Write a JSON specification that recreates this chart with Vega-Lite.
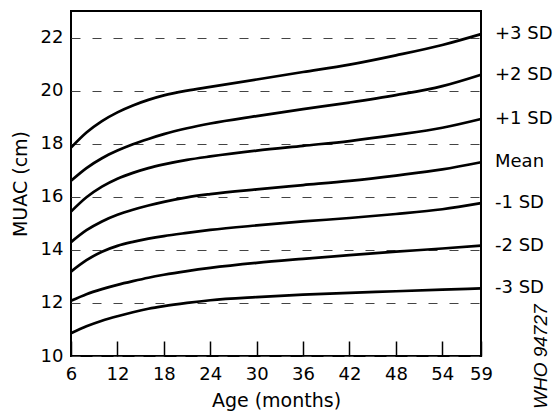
{
  "$schema": "https://vega.github.io/schema/vega-lite/v6.json",
  "autosize": {"type": "none"},
  "padding": {"left": 71, "top": 11, "right": 75, "bottom": 56},
  "width": 410,
  "height": 345,
  "background": "white",
  "config": {
    "view": {"stroke": "black", "strokeWidth": 2},
    "font": "DejaVu Sans"
  },
  "datasets": {
    "curves": [
      {"age": 6, "muac": 17.85, "line": "+3 SD"},
      {"age": 8, "muac": 18.42, "line": "+3 SD"},
      {"age": 10, "muac": 18.85, "line": "+3 SD"},
      {"age": 12, "muac": 19.18, "line": "+3 SD"},
      {"age": 14, "muac": 19.44, "line": "+3 SD"},
      {"age": 16, "muac": 19.65, "line": "+3 SD"},
      {"age": 18, "muac": 19.82, "line": "+3 SD"},
      {"age": 21, "muac": 20.0, "line": "+3 SD"},
      {"age": 24, "muac": 20.14, "line": "+3 SD"},
      {"age": 30, "muac": 20.42, "line": "+3 SD"},
      {"age": 36, "muac": 20.7, "line": "+3 SD"},
      {"age": 42, "muac": 20.98, "line": "+3 SD"},
      {"age": 48, "muac": 21.33, "line": "+3 SD"},
      {"age": 54, "muac": 21.72, "line": "+3 SD"},
      {"age": 59, "muac": 22.13, "line": "+3 SD"},
      {"age": 6, "muac": 16.6, "line": "+2 SD"},
      {"age": 8, "muac": 17.08, "line": "+2 SD"},
      {"age": 10, "muac": 17.45, "line": "+2 SD"},
      {"age": 12, "muac": 17.74, "line": "+2 SD"},
      {"age": 14, "muac": 17.98, "line": "+2 SD"},
      {"age": 16, "muac": 18.18, "line": "+2 SD"},
      {"age": 18, "muac": 18.36, "line": "+2 SD"},
      {"age": 21, "muac": 18.58, "line": "+2 SD"},
      {"age": 24, "muac": 18.76, "line": "+2 SD"},
      {"age": 30, "muac": 19.04, "line": "+2 SD"},
      {"age": 36, "muac": 19.3, "line": "+2 SD"},
      {"age": 42, "muac": 19.55, "line": "+2 SD"},
      {"age": 48, "muac": 19.83, "line": "+2 SD"},
      {"age": 54, "muac": 20.17, "line": "+2 SD"},
      {"age": 59, "muac": 20.6, "line": "+2 SD"},
      {"age": 6, "muac": 15.44, "line": "+1 SD"},
      {"age": 8, "muac": 15.98, "line": "+1 SD"},
      {"age": 10, "muac": 16.38, "line": "+1 SD"},
      {"age": 12, "muac": 16.68, "line": "+1 SD"},
      {"age": 14, "muac": 16.9, "line": "+1 SD"},
      {"age": 16, "muac": 17.08, "line": "+1 SD"},
      {"age": 18, "muac": 17.22, "line": "+1 SD"},
      {"age": 21, "muac": 17.39, "line": "+1 SD"},
      {"age": 24, "muac": 17.52, "line": "+1 SD"},
      {"age": 30, "muac": 17.74, "line": "+1 SD"},
      {"age": 36, "muac": 17.92, "line": "+1 SD"},
      {"age": 42, "muac": 18.1, "line": "+1 SD"},
      {"age": 48, "muac": 18.33, "line": "+1 SD"},
      {"age": 54, "muac": 18.6, "line": "+1 SD"},
      {"age": 59, "muac": 18.93, "line": "+1 SD"},
      {"age": 6, "muac": 14.29, "line": "Mean"},
      {"age": 8, "muac": 14.74, "line": "Mean"},
      {"age": 10, "muac": 15.07, "line": "Mean"},
      {"age": 12, "muac": 15.32, "line": "Mean"},
      {"age": 14, "muac": 15.51, "line": "Mean"},
      {"age": 16, "muac": 15.67, "line": "Mean"},
      {"age": 18, "muac": 15.81, "line": "Mean"},
      {"age": 21, "muac": 15.98, "line": "Mean"},
      {"age": 24, "muac": 16.1, "line": "Mean"},
      {"age": 30, "muac": 16.28, "line": "Mean"},
      {"age": 36, "muac": 16.44, "line": "Mean"},
      {"age": 42, "muac": 16.6, "line": "Mean"},
      {"age": 48, "muac": 16.8, "line": "Mean"},
      {"age": 54, "muac": 17.03, "line": "Mean"},
      {"age": 59, "muac": 17.3, "line": "Mean"},
      {"age": 6, "muac": 13.18, "line": "-1 SD"},
      {"age": 8, "muac": 13.61, "line": "-1 SD"},
      {"age": 10, "muac": 13.93, "line": "-1 SD"},
      {"age": 12, "muac": 14.15, "line": "-1 SD"},
      {"age": 14, "muac": 14.3, "line": "-1 SD"},
      {"age": 16, "muac": 14.42, "line": "-1 SD"},
      {"age": 18, "muac": 14.52, "line": "-1 SD"},
      {"age": 21, "muac": 14.64, "line": "-1 SD"},
      {"age": 24, "muac": 14.75, "line": "-1 SD"},
      {"age": 30, "muac": 14.92, "line": "-1 SD"},
      {"age": 36, "muac": 15.07, "line": "-1 SD"},
      {"age": 42, "muac": 15.2, "line": "-1 SD"},
      {"age": 48, "muac": 15.35, "line": "-1 SD"},
      {"age": 54, "muac": 15.53, "line": "-1 SD"},
      {"age": 59, "muac": 15.76, "line": "-1 SD"},
      {"age": 6, "muac": 12.08, "line": "-2 SD"},
      {"age": 8, "muac": 12.33, "line": "-2 SD"},
      {"age": 10, "muac": 12.52, "line": "-2 SD"},
      {"age": 12, "muac": 12.68, "line": "-2 SD"},
      {"age": 14, "muac": 12.82, "line": "-2 SD"},
      {"age": 16, "muac": 12.95, "line": "-2 SD"},
      {"age": 18, "muac": 13.06, "line": "-2 SD"},
      {"age": 21, "muac": 13.2, "line": "-2 SD"},
      {"age": 24, "muac": 13.32, "line": "-2 SD"},
      {"age": 30, "muac": 13.51, "line": "-2 SD"},
      {"age": 36, "muac": 13.66, "line": "-2 SD"},
      {"age": 42, "muac": 13.8, "line": "-2 SD"},
      {"age": 48, "muac": 13.93, "line": "-2 SD"},
      {"age": 54, "muac": 14.05, "line": "-2 SD"},
      {"age": 59, "muac": 14.16, "line": "-2 SD"},
      {"age": 6, "muac": 10.86, "line": "-3 SD"},
      {"age": 8, "muac": 11.12, "line": "-3 SD"},
      {"age": 10, "muac": 11.33, "line": "-3 SD"},
      {"age": 12, "muac": 11.5, "line": "-3 SD"},
      {"age": 14, "muac": 11.65, "line": "-3 SD"},
      {"age": 16, "muac": 11.78, "line": "-3 SD"},
      {"age": 18, "muac": 11.88, "line": "-3 SD"},
      {"age": 21, "muac": 12.0, "line": "-3 SD"},
      {"age": 24, "muac": 12.1, "line": "-3 SD"},
      {"age": 30, "muac": 12.22, "line": "-3 SD"},
      {"age": 36, "muac": 12.31, "line": "-3 SD"},
      {"age": 42, "muac": 12.38, "line": "-3 SD"},
      {"age": 48, "muac": 12.44, "line": "-3 SD"},
      {"age": 54, "muac": 12.5, "line": "-3 SD"},
      {"age": 59, "muac": 12.55, "line": "-3 SD"}
    ]
  },
  "data": {"name": "curves"},
  "encoding": {
    "x": {
      "field": "age",
      "type": "quantitative",
      "scale": {"domain": [6, 59], "nice": false, "zero": false},
      "axis": {
        "title": "Age (months)",
        "values": [6, 12, 18, 24, 30, 36, 42, 48, 54, 59],
        "grid": false,
        "domain": false,
        "ticks": true,
        "tickSize": -15,
        "tickColor": "black",
        "tickWidth": 1.5,
        "tickOpacity": 1,
        "zindex": 2,
        "labelPadding": 24,
        "labelFont": "DejaVu Sans",
        "labelFontSize": 18,
        "labelColor": "black",
        "labelFlush": false,
        "titleFont": "DejaVu Sans",
        "titleFontSize": 19,
        "titleFontWeight": "normal",
        "titleColor": "black",
        "titlePadding": 8
      }
    },
    "y": {
      "field": "muac",
      "type": "quantitative",
      "scale": {"domain": [10, 23], "nice": false, "zero": false},
      "axis": {
        "title": "MUAC (cm)",
        "values": [10, 12, 14, 16, 18, 20, 22],
        "grid": true,
        "gridDash": [9, 12],
        "gridColor": "#444444",
        "gridWidth": 1,
        "gridOpacity": 1,
        "domain": false,
        "ticks": false,
        "labelPadding": 8,
        "labelFont": "DejaVu Sans",
        "labelFontSize": 18,
        "labelColor": "black",
        "titleFont": "DejaVu Sans",
        "titleFontSize": 19,
        "titleFontWeight": "normal",
        "titleColor": "black",
        "titlePadding": 10
      }
    }
  },
  "layer": [
    {
      "mark": {"type": "line", "interpolate": "monotone", "color": "black", "strokeWidth": 2.7},
      "encoding": {"detail": {"field": "line"}}
    },
    {
      "transform": [{"filter": "datum.age == 59"}],
      "mark": {"type": "text", "align": "left", "baseline": "middle", "dx": 14, "font": "DejaVu Sans", "fontSize": 18, "color": "black"},
      "encoding": {"text": {"field": "line"}}
    },
    {
      "transform": [{"filter": "datum.age == 59 && datum.line == '-3 SD'"}],
      "mark": {"type": "text", "angle": 270, "align": "left", "baseline": "middle", "dx": -53, "dy": 60, "font": "Liberation Sans", "fontStyle": "italic", "fontSize": 19, "color": "black"},
      "encoding": {
        "x": {"datum": 59},
        "y": {"datum": 10},
        "text": {"value": "WHO 94727"}
      }
    }
  ]
}
